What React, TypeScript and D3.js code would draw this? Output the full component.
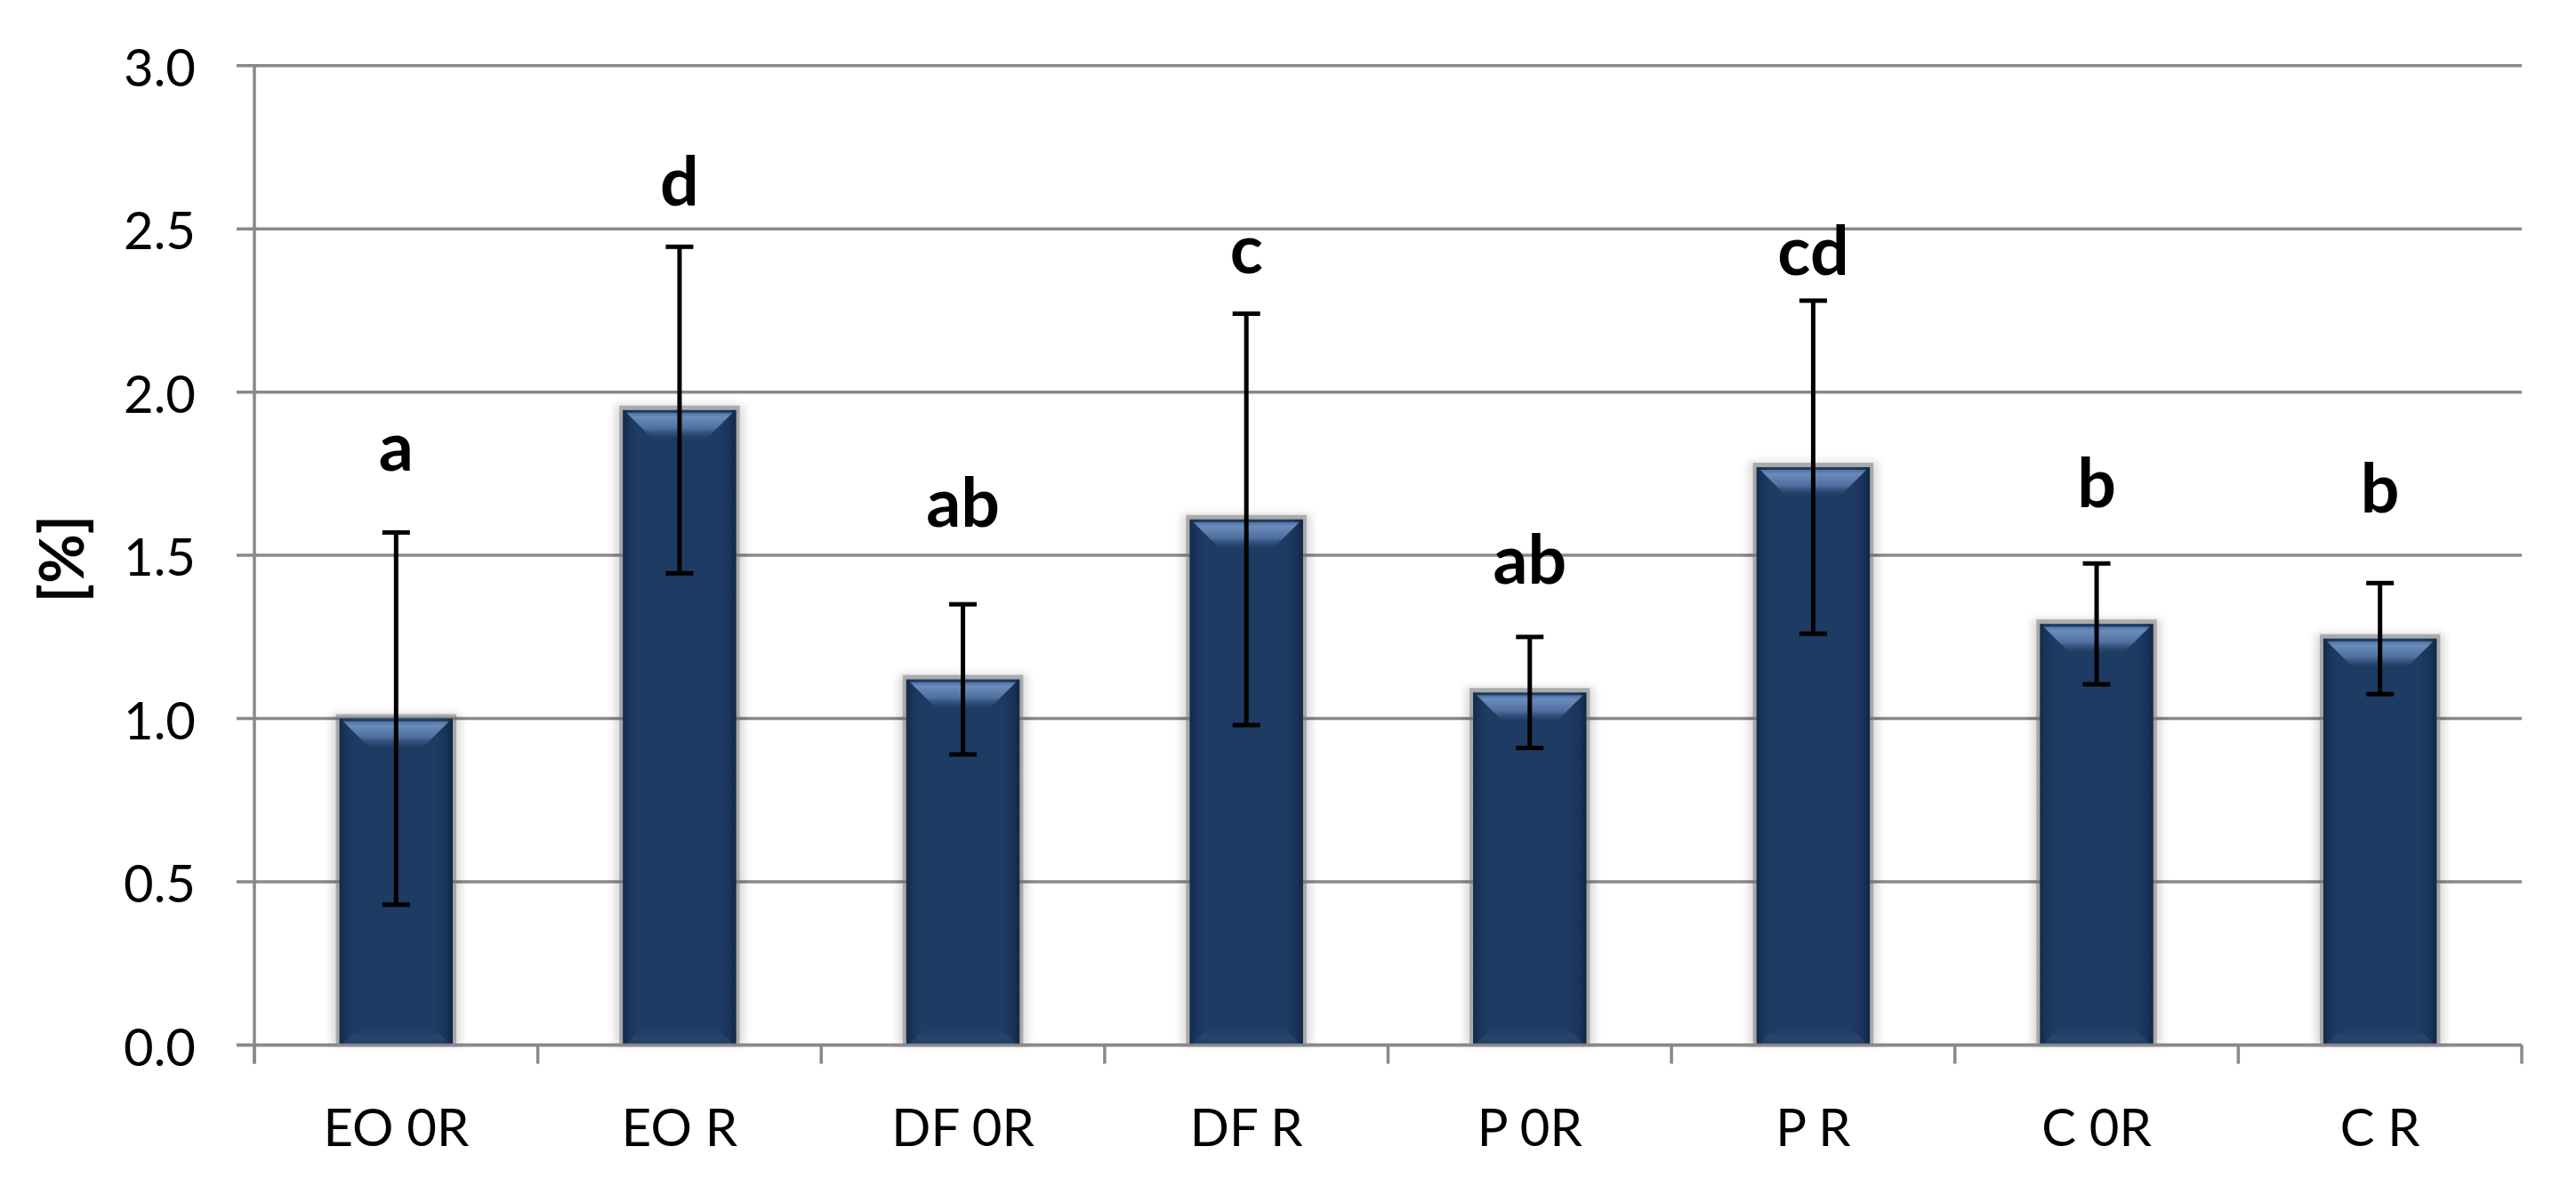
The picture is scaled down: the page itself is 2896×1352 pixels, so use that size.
import React from "react";
import * as d3 from "d3";

const categories = ["EO 0R", "EO R", "DF 0R", "DF R", "P 0R", "P R", "C 0R", "C R"];
const means = [1.0, 1.945, 1.12, 1.61, 1.08, 1.77, 1.29, 1.245];
const errors = [0.57, 0.5, 0.23, 0.63, 0.17, 0.51, 0.185, 0.17];
const letters = ["a", "d", "ab", "c", "ab", "cd", "b", "b"];
const letterLevels = [1.758, 2.571, 1.588, 2.363, 1.413, 2.36, 1.647, 1.631];
const yTicks = [0, 0.5, 1.0, 1.5, 2.0, 2.5, 3.0];
const yLabel = "[%]";

const W = 2896;
const H = 1352;
const FONT = "Lato, Carlito, Calibri, 'Open Sans', sans-serif";
const GRID = "#898989";

export default function App() {
  const x = d3
    .scaleBand<string>()
    .domain(categories)
    .range([286, 2835])
    .paddingInner(0.6)
    .paddingOuter(0.3);
  const y = d3.scaleLinear().domain([0, 3]).range([1174.5, 73.7]);
  const [x0, x1] = x.range();
  const step = x.step();
  const bw = x.bandwidth();
  const boundaries = d3.range(categories.length + 1).map((i) => x0 + i * step);
  const capW = 31;

  return (
    <svg
      width={W}
      height={H}
      viewBox={`0 0 ${W} ${H}`}
      style={{ position: "absolute", left: 0, top: 0, background: "#fff" }}
    >
      <defs>
        <linearGradient id="barH" x1="0" y1="0" x2="1" y2="0">
          <stop offset="0" stopColor="#132a4a" />
          <stop offset="0.05" stopColor="#19345a" />
          <stop offset="0.12" stopColor="#1e3b63" />
          <stop offset="0.85" stopColor="#1e3b63" />
          <stop offset="0.94" stopColor="#19335a" />
          <stop offset="1" stopColor="#112745" />
        </linearGradient>
        <linearGradient id="bevelTop" x1="0" y1="0" x2="0" y2="1">
          <stop offset="0" stopColor="#4d709e" />
          <stop offset="0.15" stopColor="#6a8cba" />
          <stop offset="0.55" stopColor="#4f70a0" />
          <stop offset="1" stopColor="#1e3b63" stopOpacity="0" />
        </linearGradient>
        <linearGradient id="bevelBot" x1="0" y1="0" x2="0" y2="1">
          <stop offset="0" stopColor="#1e3b63" stopOpacity="0" />
          <stop offset="0.7" stopColor="#2b4a72" />
          <stop offset="1" stopColor="#213f66" />
        </linearGradient>
        <filter id="soft" x="-30%" y="-10%" width="160%" height="120%">
          <feGaussianBlur stdDeviation="5" />
        </filter>
      </defs>

      {/* gridlines */}
      {yTicks.map((t) => (
        <line
          key={"g" + t}
          x1={x0 - 20}
          x2={x1}
          y1={y(t)}
          y2={y(t)}
          stroke={GRID}
          strokeWidth={3.5}
        />
      ))}

      {/* bars */}
      {categories.map((c, i) => {
        const bx = x(c)!;
        const by = y(means[i]);
        const bh = y(0) - by;
        const bev = Math.min(32, bh / 2);
        return (
          <g key={"b" + c}>
            <rect
              x={bx - 9}
              y={by - 6}
              width={bw + 18}
              height={bh + 6}
              fill="#000"
              opacity={0.14}
              filter="url(#soft)"
            />
            <rect
              x={bx - 4}
              y={by - 5}
              width={bw + 8}
              height={bh + 5}
              fill="#7c7c7c"
              opacity={0.55}
            />
            <rect x={bx} y={by} width={bw} height={bh} fill="url(#barH)" />
            <polygon
              points={`${bx + 4},${by + 3} ${bx + bw - 4},${by + 3} ${bx + bw - 4 - bev},${by + 3 + bev} ${bx + 4 + bev},${by + 3 + bev}`}
              fill="url(#bevelTop)"
            />
            <polygon
              points={`${bx + 4 + 22},${y(0) - 24} ${bx + bw - 4 - 22},${y(0) - 24} ${bx + bw - 4},${y(0) - 2} ${bx + 4},${y(0) - 2}`}
              fill="url(#bevelBot)"
              opacity={0.7}
            />
          </g>
        );
      })}

      {/* error bars */}
      {categories.map((c, i) => {
        const cx = x(c)! + bw / 2;
        const top = y(means[i] + errors[i]);
        const bot = y(means[i] - errors[i]);
        return (
          <g key={"e" + c} stroke="#000" strokeWidth={5}>
            <line x1={cx} x2={cx} y1={top} y2={bot} />
            <line x1={cx - capW / 2} x2={cx + capW / 2} y1={top} y2={top} />
            <line x1={cx - capW / 2} x2={cx + capW / 2} y1={bot} y2={bot} />
          </g>
        );
      })}

      {/* axes */}
      <line x1={x0} x2={x0} y1={y(3)} y2={y(0) + 21} stroke={GRID} strokeWidth={3.5} />
      <line x1={x0 - 20} x2={x1} y1={y(0)} y2={y(0)} stroke={GRID} strokeWidth={3.5} />
      {boundaries.map((b, i) => (
        <line
          key={"t" + i}
          x1={b}
          x2={b}
          y1={y(0)}
          y2={y(0) + 21}
          stroke={GRID}
          strokeWidth={3.5}
        />
      ))}

      {/* y tick labels */}
      {yTicks.map((t) => (
        <text
          key={"yl" + t}
          x={220}
          y={y(t) + 23}
          textAnchor="end"
          fontFamily={FONT}
          fontSize={58}
          fill="#000"
        >
          {t.toFixed(1)}
        </text>
      ))}

      {/* x labels */}
      {categories.map((c) => (
        <text
          key={"xl" + c}
          x={x(c)! + bw / 2}
          y={1288}
          textAnchor="middle"
          fontFamily={FONT}
          fontSize={58}
          fill="#000"
          style={{ whiteSpace: "pre" }}
        >
          {c}
        </text>
      ))}

      {/* significance letters */}
      {categories.map((c, i) => (
        <text
          key={"lt" + c}
          x={x(c)! + bw / 2}
          y={y(letterLevels[i])}
          textAnchor="middle"
          fontFamily={FONT}
          fontWeight="bold"
          fontSize={77}
          fill="#000"
        >
          {letters[i]}
        </text>
      ))}

      {/* y axis title */}
      <text
        transform={`translate(94, 628) rotate(-90)`}
        textAnchor="middle"
        fontFamily={FONT}
        fontWeight="bold"
        fontSize={68}
        fill="#000"
      >
        {yLabel}
      </text>
    </svg>
  );
}
